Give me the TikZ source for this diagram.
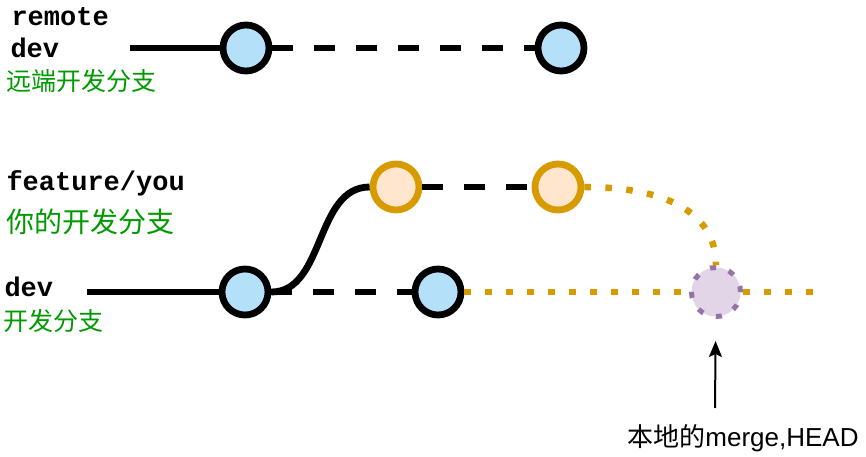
\documentclass[tikz,border=0pt]{standalone}
\usepackage{fontspec}
\setmainfont{Liberation Sans}
\setmonofont{Liberation Mono}
\newfontfamily\cjk{Noto Sans CJK SC}
\usetikzlibrary{arrows.meta}
\definecolor{ink}{HTML}{000000}
\definecolor{notegreen}{HTML}{009900}
\definecolor{devfill}{HTML}{B5E0FA}
\definecolor{featfill}{HTML}{FFE6CC}
\definecolor{featedge}{HTML}{D79B00}
\definecolor{mergefill}{HTML}{E1D5E7}
\definecolor{mergeedge}{HTML}{9673A6}
\tikzset{
  branch/.style={anchor=base west,font=\fontsize{27bp}{32bp}\selectfont\ttfamily\bfseries,text=ink},
  note/.style={anchor=base west,text=notegreen},
  caption/.style={anchor=base,font=\fontsize{26bp}{30bp}\selectfont,text=ink},
  commit/.style={circle,minimum size=46bp,inner sep=0pt,line width=6.8bp},
  devcommit/.style={commit,fill=devfill,draw=ink},
  featcommit/.style={commit,fill=featfill,draw=featedge},
  mergecommit/.style={commit,minimum size=49bp,line width=5bp,fill=mergefill,draw=mergeedge,dash pattern=on 6bp off 13.2bp},
  trunk/.style={draw=ink,line width=6.8bp},
  pending/.style={trunk,dash pattern=on 21bp off 21bp},
  planned/.style={draw=featedge,line width=6.5bp,dash pattern=on 6.5bp off 14.5bp},
  pointer/.style={draw=ink,line width=2bp,-{Stealth[length=16bp,width=13bp,inset=3bp]}}
}
\begin{document}
\begin{tikzpicture}[x=1bp,y=-1bp]
\path[use as bounding box] (0,0) rectangle (866,457);

% branch labels
\node[branch] (remote-name) at (8,26) {remote};
\node[branch] (remote-dev) at (7,58) {dev};
\node[note,font=\cjk\fontsize{25bp}{30bp}\selectfont] (remote-note) at (3,91) {远端开发分支};
\node[branch] (feat-name) at (3,191) {feature/you};
\node[note,font=\cjk\fontsize{28bp}{32bp}\selectfont] (feat-note) at (3,233) {你的开发分支};
\node[branch] (dev-name) at (1,297) {dev};
\node[note,font=\cjk\fontsize{25bp}{30bp}\selectfont] (dev-note) at (0,331) {开发分支};

% commits
\node[devcommit] (r1) at (246,48) {};
\node[devcommit] (r2) at (561,48) {};
\node[featcommit] (f1) at (396,187) {};
\node[featcommit] (f2) at (558,187) {};
\node[devcommit] (d1) at (245,292) {};
\node[devcommit] (d2) at (438,292) {};
\coordinate (r-start) at (130,48);
\coordinate (d-start) at (87,292);
\coordinate (d-end) at (818,292);

% remote dev
\draw[trunk] (r-start) -- (r1);
\draw[pending] (r1) -- (r2);

% local dev and feature
\draw[trunk] (d-start) -- (d1);
\draw[pending] (d1) -- (d2);
\draw[trunk] (d1) .. controls (325,292) and (315,187) .. (f1);
\draw[pending] (f1) -- (f2);

% merge
\node[mergecommit] (merge) at (716,292) {};
\draw[planned] (d2) -- (merge);
\draw[planned] (merge) -- (d-end);
\draw[planned] (f2) .. controls (665,187) and (716,212) .. (merge);

\node[caption] (merge-label) at (743,446) {{\cjk 本地的}merge,HEAD};
\coordinate (arrow-base) at (715,408);
\draw[pointer,shorten >=22bp] (arrow-base) -- (merge);
\end{tikzpicture}
\end{document}
